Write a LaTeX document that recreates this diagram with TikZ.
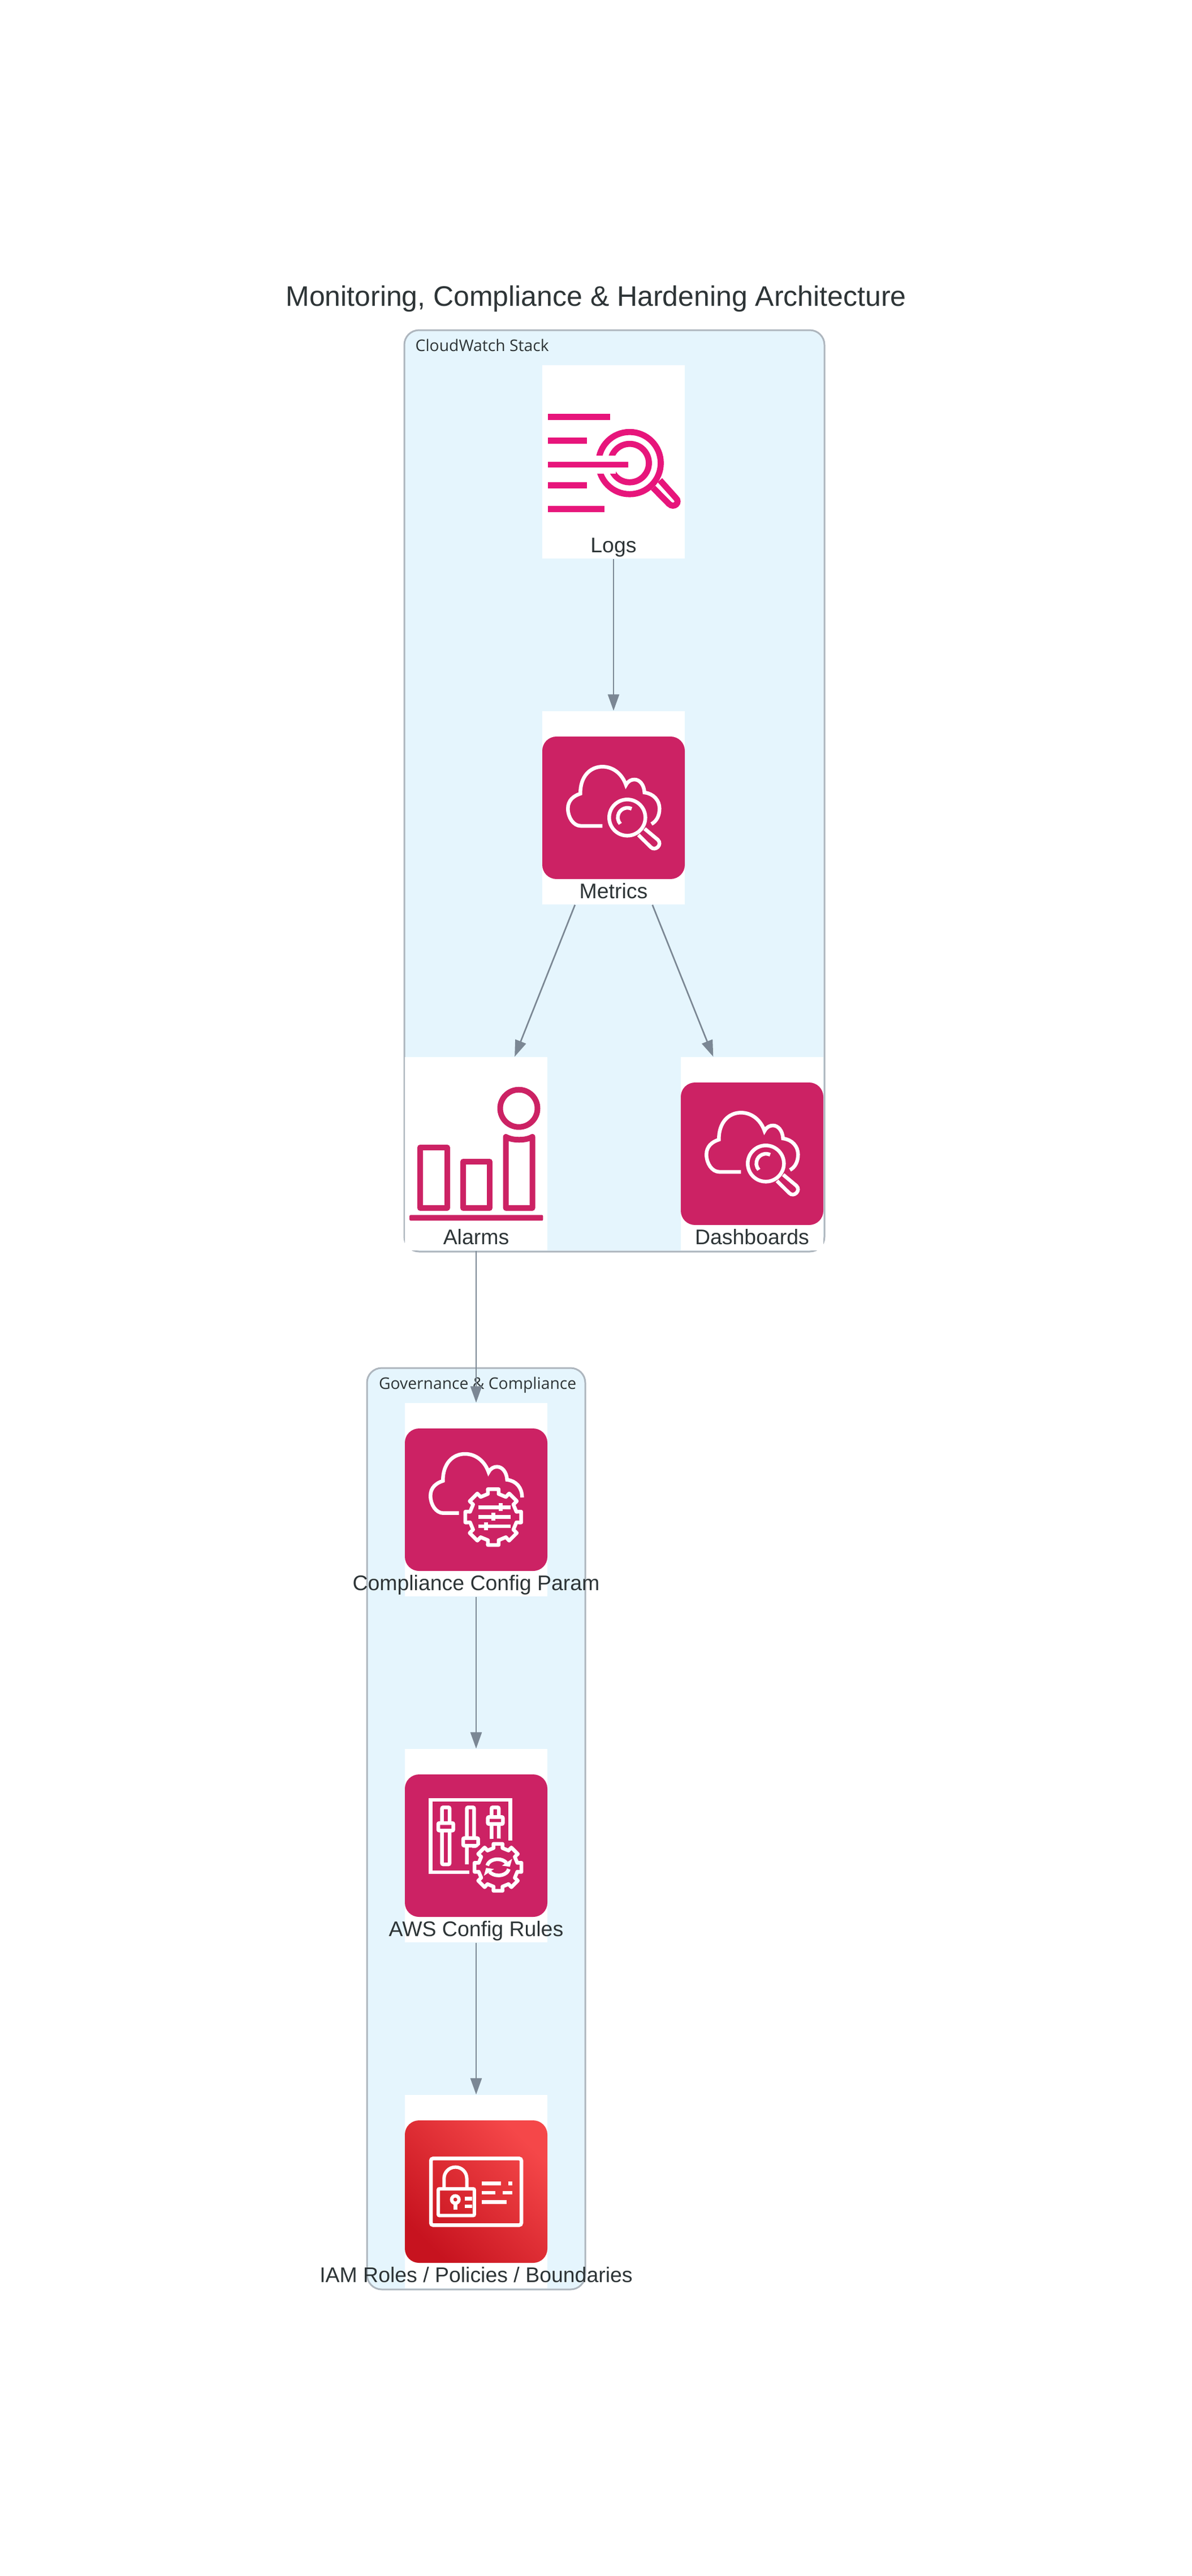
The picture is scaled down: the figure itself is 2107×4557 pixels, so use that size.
\documentclass[tikz,border=0pt]{standalone}
\usepackage{fontspec}
\usepackage{xcolor}
\setmainfont{Liberation Sans}
\newfontfamily\clusterfont{Open Sans}
\usetikzlibrary{arrows.meta}
\definecolor{textgrey}{HTML}{2D3436}
\definecolor{edgegrey}{HTML}{7B8794}
\definecolor{clusterfill}{HTML}{E5F5FD}
\definecolor{clusterline}{HTML}{AEB6BE}
\definecolor{awspink}{HTML}{CC2264}
\definecolor{logspink}{HTML}{E7157B}
\definecolor{iamlow}{HTML}{C7131F}
\definecolor{iamhigh}{HTML}{F54749}
\newcommand{\gearat}[4]{
	\begin{scope}[shift={(#1,#2)}]
		\draw[iconline,fill=awspink,line join=round] (-13:#4) \foreach \a in {0,45,...,315} { -- (\a-13:#4) -- (\a-11:#3) -- (\a+11:#3) -- (\a+13:#4) } -- cycle;
	\end{scope}
}
\tikzset{
	cluster/.style={draw=clusterline,fill=clusterfill,line width=0.3mm,rounded corners=2.6mm,inner sep=0pt},
	clusterlabel/.style={font=\clusterfont\fontsize{8.05pt}{10pt}\selectfont,text=textgrey,anchor=base west,inner sep=0pt},
	nodebox/.style={fill=white,minimum width=25.2mm,minimum height=34.2mm,inner sep=0pt},
	nodelabel/.style={font=\fontsize{10.65pt}{12pt}\selectfont,text=textgrey,anchor=base,inner sep=0pt},
	titlelabel/.style={font=\fontsize{14.22pt}{16pt}\selectfont,text=textgrey,anchor=base,inner sep=0pt},
	link/.style={draw=edgegrey,line width=0.27mm,-{Triangle[length=2.9mm,width=2mm]}},
	iconline/.style={draw=white,line width=0.65mm},
	logsline/.style={draw=logspink,line width=1.08mm},
	alarmline/.style={draw=awspink,line width=1mm,line join=round},
	pinksquare/.pic={\fill[awspink,rounded corners=2.5mm] (0,0) rectangle (252,252);},
	logsicon/.pic={
		\foreach \y/\e in {46.7/120,88.8/78.6,167.6/78.6,209.7/110} {\draw[logsline] (10.3,\y) -- (\e,\y);}
		\draw[logsline] (154.5,128.2) circle (55);
		\draw[logsline] (154.5,128.2) circle (34);
		\fill[white] (85,114.8) rectangle (130,146.6);
		\draw[logsline] (10.3,130.9) -- (151.8,130.9);
		\draw[logsline] (196,172) -- (224,200.4) .. controls (233,209) and (245,198) .. (236,189.6) -- (208,158.4);
	},
	alarmicon/.pic={
		\draw[alarmline] (201.5,45.7) circle (33);
		\draw[alarmline] (27,114.7) rectangle (74.5,222);
		\draw[alarmline] (103,140) rectangle (150,222);
		\draw[alarmline] (178.6,222) -- (178.6,96) .. controls (190,103) and (214,103) .. (225.5,96) -- (225.5,222) -- cycle;
		\fill[awspink,rounded corners=0.2mm] (8.2,234.3) rectangle (244.4,244.3);
	},
	cloudlens/.pic={
		\pic {pinksquare};
		\draw[iconline] (106.3,158) -- (68,158) .. controls (55,158) and (45.3,143) .. (45.3,127.3) .. controls (45.3,113) and (55,105) .. (67.3,101) .. controls (67,70) and (85,53.3) .. (106.3,53.3) .. controls (127,53.3) and (142,68) .. (148,85.7) .. controls (152,78) and (158,76) .. (163,76) .. controls (172,76) and (180,85) .. (180.7,99) .. controls (197,101) and (207.3,113) .. (207.3,127.3) .. controls (207.3,140) and (202,150) .. (193,154.7);
		\draw[iconline] (150.3,143.3) circle (32);
		\draw[iconline] (158,127.8) arc[start angle=-64,end angle=-222,radius=17];
		\draw[iconline] (170,174) -- (191.6,195.4) .. controls (200,204) and (213,191) .. (204.4,182.6) -- (181,163);
	},
	paramicon/.pic={
		\pic {pinksquare};
		\draw[iconline] (95.7,149.7) -- (68,149.7) .. controls (55,149.7) and (45.3,134.7) .. (45.3,119) .. controls (45.3,104.7) and (55,96.7) .. (67.3,92.7) .. controls (67,61.7) and (85,45) .. (106.3,45) .. controls (127,45) and (142,59.7) .. (148,77.4) .. controls (152,69.7) and (158,67.7) .. (163,67.7) .. controls (172,67.7) and (180,76.7) .. (180.7,90.7) .. controls (197,92.7) and (207.3,104.7) .. (207.3,122);
		\gearat{156.3}{156.7}{50.3}{42}
		\foreach \y/\k in {139.3/169.7,156.3/156.7,173/143} {
			\draw[iconline] (129.7,\y) -- (186.7,\y);
			\fill[white] (\k-3.5,\y-7) rectangle (\k+3.5,\y+7);
		}
	},
	rulesicon/.pic={
		\pic {pinksquare};
		\draw[iconline] (114,173) -- (45.7,173) -- (45.7,45) -- (186.7,45) -- (186.7,117);
		\draw[iconline,rounded corners=0.2mm] (65.7,58.3) rectangle (79,159);
		\draw[iconline,fill=awspink,rounded corners=0.2mm] (59,86) rectangle (85.7,99.3);
		\draw[iconline,rounded corners=0.2mm] (109.7,159) -- (109.7,58.3) -- (122.3,58.3) -- (122.3,130);
		\draw[iconline,fill=awspink,rounded corners=0.2mm] (103,112.7) rectangle (129.7,126);
		\draw[iconline,rounded corners=0.2mm] (153.3,114) -- (153.3,58.3) -- (166,58.3) -- (166,114);
		\draw[iconline,fill=awspink,rounded corners=0.2mm] (146.7,75.3) rectangle (173.3,87.7);
		\fill[awspink] (164.7,164.3) circle (51);
		\gearat{164.7}{164.3}{42.3}{35}
		\begin{scope}[shift={(164.7,164.3)}]
			\draw[iconline] (-19,-3) .. controls (-17,-11) and (-8,-14.3) .. (-1,-14.3) .. controls (6,-14.3) and (11,-12) .. (15,-8);
			\fill[white] (25,-15) -- (7,-3) -- (21,-1) -- cycle;
			\draw[iconline] (19,3) .. controls (17,11) and (8,14.3) .. (1,14.3) .. controls (-6,14.3) and (-11,12) .. (-15,8);
			\fill[white] (-25,15) -- (-7,3) -- (-21,1) -- cycle;
		\end{scope}
	},
	iamicon/.pic={
		\shade[rounded corners=2.5mm,bottom color=iamlow,top color=iamhigh,shading angle=-45] (0,0) rectangle (252,252);
		\draw[iconline,rounded corners=0.4mm] (46,67.3) rectangle (206,185.3);
		\draw[iconline,line width=0.6mm,rounded corners=0.2mm] (59,121) rectangle (122.8,168.3);
		\draw[iconline,line width=0.6mm] (69.3,121) -- (69.3,102.7) arc[start angle=180,end angle=360,radius=20.1] -- (109.5,121);
		\draw[iconline,line width=0.6mm] (89.2,140) circle (6.5);
		\fill[white] (85.7,146) rectangle (92.7,158.3);
		\fill[white] (106.4,135.3) rectangle (119,141.7);
		\fill[white] (106.4,148.7) rectangle (119,155);
		\fill[white] (136.2,108) rectangle (170,114.7);
		\fill[white] (183,108) rectangle (189.8,114.7);
		\fill[white] (136.2,124.7) rectangle (160,131.3);
		\fill[white] (173,124.7) rectangle (189.8,131.3);
		\fill[white] (136.2,141.3) rectangle (180,148);
	}
}

\begin{document}
\begin{tikzpicture}[x=0.1mm,y=-0.1mm]
	\useasboundingbox[fill=white] (0,0) rectangle (2107,4557);
	\node[titlelabel] (title) at (1054,541.8) {Monitoring, Compliance \& Hardening Architecture};

	\node[cluster,minimum width=74.3mm,minimum height=163mm] (cloudwatch) at (1086.5,1399) {};
	\node[clusterlabel] (cloudwatchlabel) at (734,621.5) {CloudWatch Stack};
	\node[cluster,minimum width=38.6mm,minimum height=163mm] (governance) at (842,3235) {};
	\node[clusterlabel] (governancelabel) at (669.3,2457) {Governance \& Compliance};

	\node[nodebox] (logs) at (1085,817) {};
	\node[nodebox] (metrics) at (1085,1429) {};
	\node[nodebox] (alarms) at (842,2041) {};
	\node[nodebox] (dashboards) at (1330,2041) {};
	\node[nodebox] (param) at (842,2653) {};
	\node[nodebox] (rules) at (842,3265) {};
	\node[nodebox] (iam) at (842,3877) {};

	\pic at (959,691) {logsicon};
	\pic at (959,1303) {cloudlens};
	\pic at (716,1915) {alarmicon};
	\pic at (1204,1915) {cloudlens};
	\pic at (716,2527) {paramicon};
	\pic at (716,3139) {rulesicon};
	\pic at (716,3751) {iamicon};

	\node[nodelabel] (logslabel) at (1085,977) {Logs};
	\node[nodelabel] (metricslabel) at (1085,1589) {Metrics};
	\node[nodelabel] (alarmslabel) at (842,2201) {Alarms};
	\node[nodelabel] (dashboardslabel) at (1330,2201) {Dashboards};
	\node[nodelabel] (paramlabel) at (842,2813) {Compliance Config Param};
	\node[nodelabel] (ruleslabel) at (842,3425) {AWS Config Rules};
	\node[nodelabel] (iamlabel) at (842,4037) {IAM Roles / Policies / Boundaries};

	\draw[link] (logs) -- (metrics);
	\draw[link] (metrics) -- (alarms);
	\draw[link] (metrics) -- (dashboards);
	\draw[link] (alarms) -- (param);
	\draw[link] (param) -- (rules);
	\draw[link] (rules) -- (iam);
\end{tikzpicture}
\end{document}
